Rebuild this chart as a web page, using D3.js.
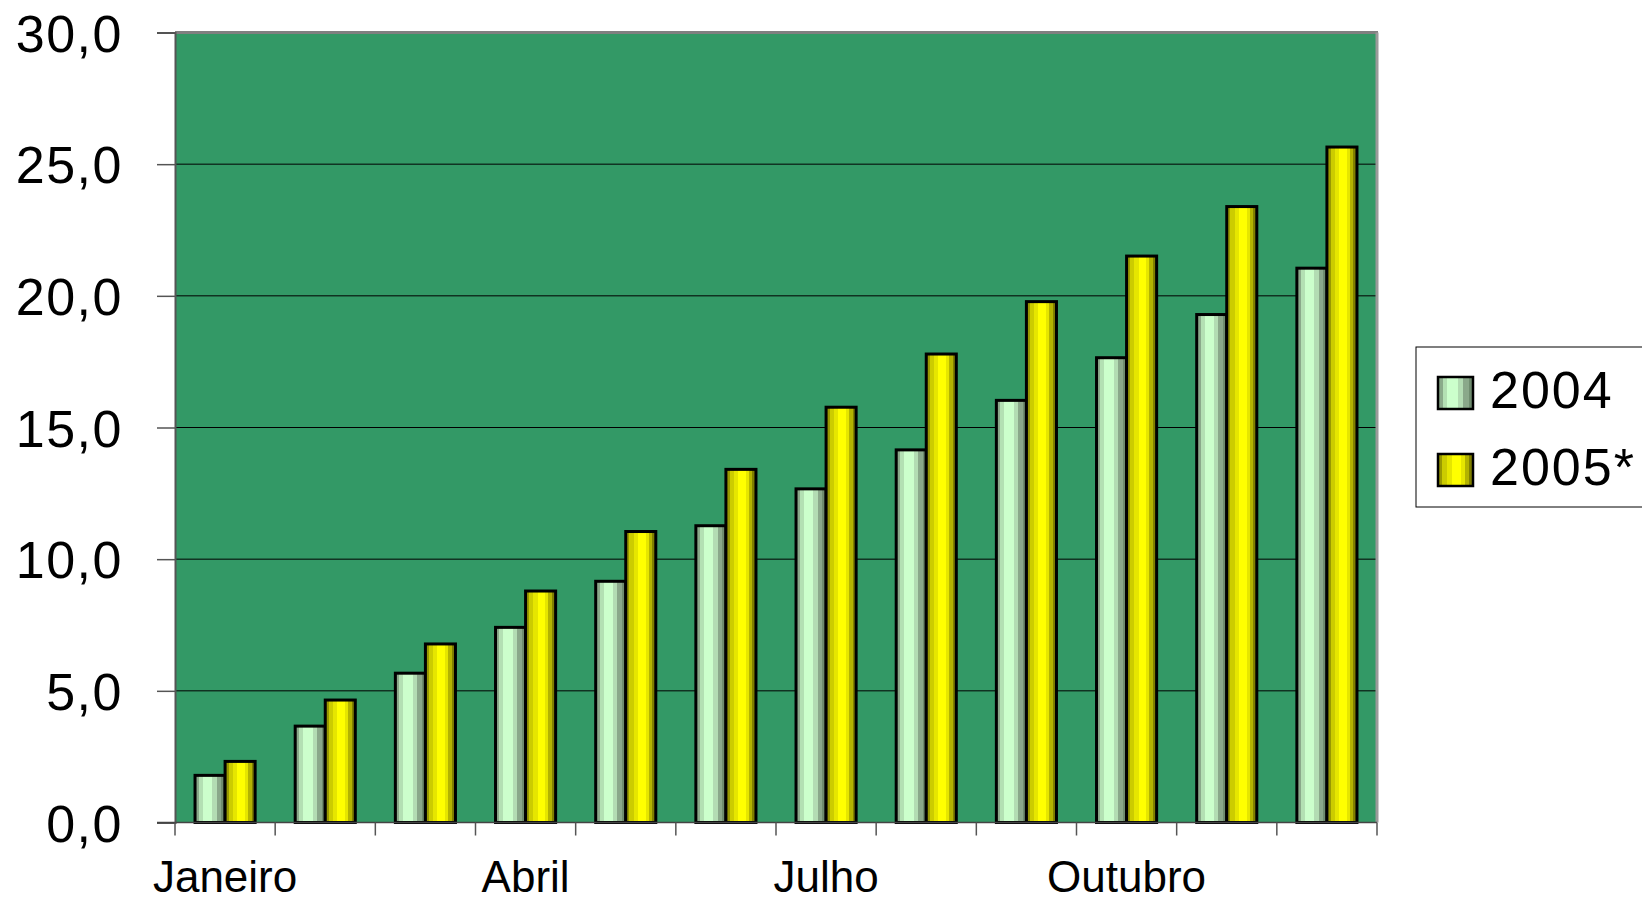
<!DOCTYPE html>
<html>
<head>
<meta charset="utf-8">
<script src="https://cdn.jsdelivr.net/npm/d3@7"></script>
<style>
  html, body { margin: 0; padding: 0; background: #fff; }
  svg { display: block; }
  text { font-family: "Liberation Sans", Arial, sans-serif; fill: #000; }
</style>
</head>
<body>
<svg id="chart" width="1642" height="902"></svg>
<script>
const months = ["Janeiro","Fevereiro","Março","Abril","Maio","Junho","Julho","Agosto","Setembro","Outubro","Novembro","Dezembro"];
const shownMonthLabels = ["Janeiro","Abril","Julho","Outubro"];
const seriesNames = ["2004","2005*"];
const values2004 = [1.79, 3.66, 5.67, 7.41, 9.16, 11.27, 12.67, 14.15, 16.03, 17.65, 19.29, 21.05];
const values2005 = [2.32, 4.65, 6.78, 8.79, 11.05, 13.41, 15.77, 17.79, 19.78, 21.51, 23.39, 25.65];
const yTicks = [0, 5, 10, 15, 20, 25, 30];

const svg = d3.select("#chart");
const L = 175, R = 1377, T = 32.5, B = 822.5;

const x = d3.scaleBand().domain(months).range([L, R]).paddingInner(0.4).paddingOuter(0.2);
const x1 = d3.scaleBand().domain(seriesNames).range([0, x.bandwidth()]).padding(0);
const y = d3.scaleLinear().domain([0, 30]).range([B, T]);

// gradients
const defs = svg.append("defs");
function bandGrad(id, stops) {
  const g = defs.append("linearGradient").attr("id", id).attr("x1", "0").attr("x2", "1").attr("y1", "0").attr("y2", "0");
  stops.forEach(([a, b, c]) => {
    g.append("stop").attr("offset", a).attr("stop-color", c);
    g.append("stop").attr("offset", b).attr("stop-color", c);
  });
}
bandGrad("g2004", [
  ["0%","13%","#8aaa8a"],["13%","26%","#b3e0b3"],["26%","58%","#ccffcc"],
  ["58%","72%","#b3dcb3"],["72%","88%","#8aa88a"],["88%","100%","#6f8c6f"]
]);
bandGrad("g2005", [
  ["0%","12%","#999900"],["12%","26%","#cccc00"],["26%","40%","#e6e600"],["40%","66%","#ffff00"],
  ["66%","76%","#e6e600"],["76%","88%","#b3b300"],["88%","100%","#808000"]
]);
const fills = {"2004": "url(#g2004)", "2005*": "url(#g2005)"};

// plot background
svg.append("rect").attr("x", L).attr("y", T).attr("width", R - L).attr("height", B - T).attr("fill", "#339966");

// gridlines
svg.append("g").selectAll("line").data(yTicks.filter(v => v > 0 && v < 30)).join("line")
  .attr("x1", L).attr("x2", R).attr("y1", d => y(d)).attr("y2", d => y(d))
  .attr("stroke", "#000").attr("stroke-width", 1);

// border top/right
svg.append("line").attr("x1", L).attr("x2", R + 1).attr("y1", T).attr("y2", T).attr("stroke", "#808080").attr("stroke-width", 3);
svg.append("line").attr("x1", R).attr("x2", R).attr("y1", T).attr("y2", B).attr("stroke", "#9a9a9a").attr("stroke-width", 3);

// bars
const data = months.map((m, i) => ({ m, vals: [{ s: "2004", v: values2004[i] }, { s: "2005*", v: values2005[i] }] }));
const grp = svg.append("g").selectAll("g").data(data).join("g").attr("transform", d => `translate(${x(d.m)},0)`);
grp.selectAll("rect").data(d => d.vals).join("rect")
  .attr("x", d => x1(d.s)).attr("width", x1.bandwidth())
  .attr("y", d => y(d.v)).attr("height", d => y(0) - y(d.v))
  .attr("fill", d => fills[d.s]).attr("stroke", "#000").attr("stroke-width", 3);

// y axis
const yAxis = d3.axisLeft(y).tickValues(yTicks).tickSize(18).tickPadding(34)
  .tickFormat(d => d3.format(".1f")(d).replace(".", ","));
const yg = svg.append("g").attr("transform", `translate(${L},0)`).call(yAxis);
yg.select(".domain").attr("stroke", "#555").attr("stroke-width", 2);
yg.selectAll(".tick line").attr("stroke", "#555").attr("stroke-width", 1.5);
yg.selectAll(".tick text").attr("font-size", 52).attr("letter-spacing", "1.5px")
  .attr("font-family", '"Liberation Sans", Arial, sans-serif').attr("fill", "#000").attr("dy", "0.36em");

// x axis
const step = x.step();
const boundaries = months.map(m => x(m) - step * x.paddingOuter()).concat([R]);
const xg = svg.append("g");
xg.append("line").attr("x1", L - 18).attr("x2", R).attr("y1", B).attr("y2", B).attr("stroke", "#444").attr("stroke-width", 1.5);
xg.selectAll("line.tk").data(boundaries).join("line").attr("class", "tk")
  .attr("x1", d => d).attr("x2", d => d).attr("y1", B).attr("y2", B + 13)
  .attr("stroke", "#555").attr("stroke-width", 1.5);
xg.selectAll("text").data(shownMonthLabels).join("text")
  .attr("x", d => x(d) + x.bandwidth() / 2).attr("y", 892)
  .attr("text-anchor", "middle").attr("font-size", 44).text(d => d);

// legend
const lg = svg.append("g");
lg.append("rect").attr("x", 1416).attr("y", 347).attr("width", 240).attr("height", 160)
  .attr("fill", "#fff").attr("stroke", "#000").attr("stroke-width", 1);
const legY = d3.scalePoint().domain(seriesNames).range([393, 470]);
seriesNames.forEach(s => {
  lg.append("rect").attr("x", 1438).attr("y", legY(s) - 16).attr("width", 35).attr("height", 32)
    .attr("fill", fills[s]).attr("stroke", "#000").attr("stroke-width", 2.5);
  lg.append("text").attr("x", 1490).attr("y", legY(s) + 15).attr("font-size", 52)
    .attr("letter-spacing", "2px").text(s);
});
</script>
</body>
</html>
